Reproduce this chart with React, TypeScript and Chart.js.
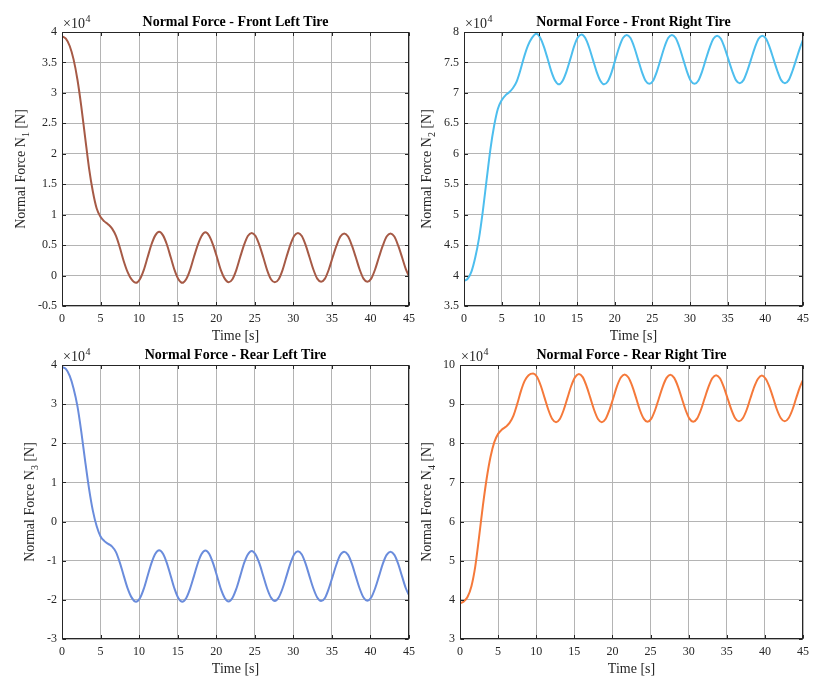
import React, { useEffect, useRef } from "react";
import { Chart, registerables } from "chart.js";

Chart.register(...registerables);

// ---------- DATA (values in units of 10^4 N) ----------
const TIME = [
  0, 0.5, 1, 1.5, 2, 2.5, 3, 3.5, 4, 4.5, 5, 5.5, 6, 6.5, 7, 7.5, 8, 8.5, 9,
  9.6, 10.1, 10.6, 11.1, 11.6, 12.1, 12.6, 13.1, 13.6, 14.1, 14.6, 15.1, 15.6,
  16.1, 16.6, 17.1, 17.6, 18.1, 18.6, 19.1, 19.6, 20.1, 20.6, 21.1, 21.6,
  22.1, 22.6, 23.1, 23.6, 24.1, 24.6, 25.1, 25.6, 26.1, 26.6, 27.1, 27.6,
  28.1, 28.6, 29.1, 29.6, 30.1, 30.6, 31.1, 31.6, 32.1, 32.6, 33.1, 33.6,
  34.1, 34.6, 35.1, 35.6, 36.1, 36.6, 37.1, 37.6, 38.1, 38.6, 39.1, 39.6,
  40.1, 40.6, 41.1, 41.6, 42.1, 42.6, 43.1, 43.6, 44.1, 44.6, 45,
];

const N1_FRONT_LEFT = [
  3.93, 3.89, 3.77, 3.55, 3.22, 2.78, 2.27, 1.77, 1.38, 1.1, 0.96, 0.89, 0.84, 0.77, 0.65, 0.46, 0.24, 0.06, -0.06,
  -0.12, -0.06, 0.09, 0.3, 0.51, 0.66, 0.72, 0.66, 0.51, 0.3, 0.09, -0.06, -0.12,
  -0.06, 0.09, 0.3, 0.5, 0.65, 0.71, 0.65, 0.5, 0.3, 0.09, -0.05, -0.11,
  -0.06, 0.09, 0.3, 0.5, 0.65, 0.7, 0.65, 0.5, 0.3, 0.09, -0.06, -0.11,
  -0.06, 0.09, 0.3, 0.5, 0.65, 0.7, 0.65, 0.5, 0.3, 0.1, -0.05, -0.1,
  -0.05, 0.1, 0.3, 0.49, 0.64, 0.69, 0.64, 0.49, 0.3, 0.1, -0.05, -0.1,
  -0.05, 0.1, 0.3, 0.49, 0.64, 0.69, 0.64, 0.49, 0.3, 0.1, -0.01,
];

const N2_FRONT_RIGHT = [
  3.91, 3.95, 4.07, 4.3, 4.62, 5.06, 5.57, 6.07, 6.46, 6.74, 6.88, 6.96, 7.01, 7.08, 7.19, 7.38, 7.6, 7.78, 7.9,
  7.97, 7.91, 7.76, 7.56, 7.35, 7.2, 7.14, 7.2, 7.35, 7.55, 7.76, 7.91, 7.96,
  7.9, 7.75, 7.55, 7.35, 7.2, 7.14, 7.19, 7.34, 7.55, 7.75, 7.9, 7.95,
  7.9, 7.75, 7.55, 7.35, 7.2, 7.15, 7.2, 7.35, 7.55, 7.75, 7.9, 7.95,
  7.9, 7.75, 7.55, 7.35, 7.2, 7.15, 7.2, 7.35, 7.55, 7.74, 7.89, 7.94,
  7.89, 7.74, 7.55, 7.36, 7.21, 7.16, 7.21, 7.36, 7.55, 7.74, 7.89, 7.94,
  7.89, 7.74, 7.55, 7.36, 7.21, 7.16, 7.21, 7.36, 7.55, 7.74, 7.87,
];

const N3_REAR_LEFT = [
  3.95, 3.9, 3.72, 3.4, 2.95, 2.3, 1.55, 0.85, 0.28, -0.12, -0.38, -0.5, -0.57, -0.64, -0.78, -1.05, -1.38, -1.7, -1.93,
  -2.05, -1.96, -1.72, -1.39, -1.06, -0.82, -0.73, -0.82, -1.06, -1.39, -1.72, -1.96, -2.05,
  -1.96, -1.72, -1.4, -1.07, -0.83, -0.74, -0.83, -1.07, -1.39, -1.72, -1.95, -2.04,
  -1.95, -1.72, -1.4, -1.07, -0.84, -0.75, -0.84, -1.07, -1.39, -1.71, -1.94, -2.03,
  -1.94, -1.71, -1.4, -1.08, -0.84, -0.76, -0.84, -1.08, -1.4, -1.71, -1.94, -2.03,
  -1.95, -1.71, -1.4, -1.09, -0.85, -0.77, -0.85, -1.08, -1.4, -1.71, -1.94, -2.02,
  -1.94, -1.71, -1.4, -1.08, -0.85, -0.77, -0.85, -1.08, -1.4, -1.71, -1.88,
];

const N4_REAR_RIGHT = [
  3.91, 3.96, 4.08, 4.35, 4.85, 5.6, 6.4, 7.1, 7.65, 8.03, 8.24, 8.35, 8.42, 8.52, 8.7, 9.0, 9.34, 9.6, 9.74,
  9.78, 9.7, 9.47, 9.16, 8.85, 8.62, 8.54, 8.62, 8.85, 9.16, 9.47, 9.69, 9.77,
  9.69, 9.46, 9.16, 8.85, 8.62, 8.54, 8.62, 8.85, 9.15, 9.46, 9.68, 9.76,
  9.68, 9.46, 9.16, 8.85, 8.63, 8.55, 8.63, 8.85, 9.15, 9.45, 9.67, 9.75,
  9.67, 9.45, 9.15, 8.85, 8.63, 8.55, 8.63, 8.85, 9.15, 9.44, 9.66, 9.74,
  9.66, 9.44, 9.15, 8.86, 8.64, 8.56, 8.64, 8.85, 9.15, 9.44, 9.65, 9.73,
  9.65, 9.44, 9.15, 8.85, 8.64, 8.56, 8.64, 8.85, 9.15, 9.44, 9.62,
];

const X_TICK_STEP = 5;
const X_MIN = 0;
const X_MAX = 45;
const EXPONENT = "4";

const TITLES = [
  "Normal Force - Front Left Tire",
  "Normal Force - Front Right Tire",
  "Normal Force - Rear Left Tire",
  "Normal Force - Rear Right Tire",
];
const SUBSCRIPTS = ["1", "2", "3", "4"];
const Y_RANGES = [
  { min: -0.5, max: 4, step: 0.5 },
  { min: 3.5, max: 8, step: 0.5 },
  { min: -3, max: 4, step: 1 },
  { min: 3, max: 10, step: 1 },
];
const SERIES = [N1_FRONT_LEFT, N2_FRONT_RIGHT, N3_REAR_LEFT, N4_REAR_RIGHT];

// ---------- STYLE / LAYOUT ----------
const W = 815;
const H = 677;
const XH = 20;
const FONT = "'Times New Roman', 'Liberation Serif', serif";
const TEXT = "#262626";
const GRID = "#b4b4b4";
const COLORS = ["#a65a46", "#4dbeee", "#6a8cdc", "#f5793a"];
const AREAS = [
  { left: 62, right: 409, top: 32, bottom: 306, ylabX: 25 },
  { left: 464, right: 812, top: 32, bottom: 306, ylabX: 431 },
  { left: 62, right: 409, top: 365, bottom: 639, ylabX: 34 },
  { left: 460, right: 809, top: 365, bottom: 639, ylabX: 431 },
];

const fmtTick = (v: any) => `${+Number(v).toFixed(2)}`;

const decorPlugin = {
  id: "matlabDecor",
  afterDraw(chart: any, _args: any, opts: any) {
    const { ctx, chartArea: a } = chart;
    const xs = chart.scales.x;
    const ys = chart.scales.y;
    ctx.save();
    const L = Math.round(a.left) + 0.5;
    const R = Math.round(a.right) - 0.5;
    const T = Math.round(a.top) + 0.5;
    const B = Math.round(a.bottom) - 0.5;
    ctx.strokeStyle = TEXT;
    ctx.lineWidth = 1;
    ctx.strokeRect(L, T, R - L, B - T);
    const tl = 3.5;
    ctx.beginPath();
    xs.ticks.forEach((t: any) => {
      const px = Math.round(xs.getPixelForValue(t.value)) + 0.5;
      ctx.moveTo(px, B);
      ctx.lineTo(px, B - tl);
      ctx.moveTo(px, T);
      ctx.lineTo(px, T + tl);
    });
    ys.ticks.forEach((t: any) => {
      const py = Math.round(ys.getPixelForValue(t.value)) + 0.5;
      ctx.moveTo(L, py);
      ctx.lineTo(L + tl, py);
      ctx.moveTo(R, py);
      ctx.lineTo(R - tl, py);
    });
    ctx.stroke();

    // title
    const cx = (a.left + a.right) / 2;
    ctx.fillStyle = "#000";
    ctx.font = `bold 14px ${FONT}`;
    ctx.textAlign = "center";
    ctx.textBaseline = "alphabetic";
    ctx.fillText(opts.title, cx, a.top - 6);

    // exponent
    ctx.fillStyle = TEXT;
    ctx.textAlign = "left";
    ctx.font = `14px ${FONT}`;
    const base = "\u00d710";
    ctx.fillText(base, a.left + 1, a.top - 4);
    const bw = ctx.measureText(base).width;
    ctx.font = `10px ${FONT}`;
    ctx.fillText(opts.exponent, a.left + 1 + bw + 0.5, a.top - 10);

    // x label
    ctx.font = `14px ${FONT}`;
    ctx.textAlign = "center";
    ctx.fillText("Time [s]", cx, a.bottom + 34);

    // y label with subscript
    const cy = (a.top + a.bottom) / 2;
    ctx.translate(opts.ylabX, cy);
    ctx.rotate(-Math.PI / 2);
    ctx.textAlign = "left";
    const main = "Normal Force N";
    const tail = " [N]";
    ctx.font = `14px ${FONT}`;
    const wm = ctx.measureText(main).width;
    const wt = ctx.measureText(tail).width;
    ctx.font = `10px ${FONT}`;
    const ws = ctx.measureText(opts.sub).width;
    const total = wm + ws + wt;
    const x0 = -total / 2;
    ctx.font = `14px ${FONT}`;
    ctx.fillText(main, x0, 0);
    ctx.font = `10px ${FONT}`;
    ctx.fillText(opts.sub, x0 + wm, 4);
    ctx.font = `14px ${FONT}`;
    ctx.fillText(tail, x0 + wm + ws, 0);
    ctx.restore();
  },
};

function buildConfig(i: number): any {
  const area = AREAS[i];
  const yr = Y_RANGES[i];
  const values = SERIES[i];
  const points = TIME.map((t, k) => ({ x: t, y: values[k] }));
  return {
    type: "line",
    data: {
      datasets: [
        {
          data: points,
          borderColor: COLORS[i],
          borderWidth: 2,
          pointRadius: 0,
          fill: false,
          cubicInterpolationMode: "monotone",
        },
      ],
    },
    options: {
      animation: false,
      responsive: false,
      devicePixelRatio: 1,
      events: [],
      layout: {
        padding: {
          left: 0,
          top: area.top,
          right: W - area.right,
          bottom: H - area.bottom - XH,
        },
      },
      plugins: {
        legend: { display: false },
        tooltip: { enabled: false },
        title: { display: false },
        matlabDecor: {
          title: TITLES[i],
          sub: SUBSCRIPTS[i],
          exponent: EXPONENT,
          ylabX: area.ylabX,
        },
      },
      scales: {
        x: {
          type: "linear",
          min: X_MIN,
          max: X_MAX,
          afterFit: (s: any) => {
            s.height = XH;
          },
          ticks: {
            stepSize: X_TICK_STEP,
            autoSkip: false,
            maxRotation: 0,
            padding: 6,
            color: TEXT,
            font: { family: FONT, size: 12 },
            callback: fmtTick,
          },
          grid: { color: GRID, lineWidth: 1, drawTicks: false },
          border: { display: false },
        },
        y: {
          type: "linear",
          min: yr.min,
          max: yr.max,
          afterFit: (s: any) => {
            s.width = area.left;
          },
          ticks: {
            stepSize: yr.step,
            autoSkip: false,
            padding: 5,
            color: TEXT,
            font: { family: FONT, size: 12 },
            callback: fmtTick,
          },
          grid: { color: GRID, lineWidth: 1, drawTicks: false },
          border: { display: false },
        },
      },
    },
    plugins: [decorPlugin],
  };
}

function Panel({ index }: { index: number }) {
  const ref = useRef<HTMLCanvasElement | null>(null);
  useEffect(() => {
    if (!ref.current) return;
    const chart = new Chart(ref.current, buildConfig(index));
    return () => chart.destroy();
  }, [index]);
  return (
    <canvas
      ref={ref}
      width={W}
      height={H}
      style={{ position: "absolute", left: 0, top: 0, width: W, height: H }}
    />
  );
}

export default function App() {
  return (
    <div
      style={{
        position: "absolute",
        left: 0,
        top: 0,
        width: W,
        height: H,
        background: "#fff",
        overflow: "hidden",
      }}
    >
      {[0, 1, 2, 3].map((i) => (
        <Panel key={i} index={i} />
      ))}
    </div>
  );
}
